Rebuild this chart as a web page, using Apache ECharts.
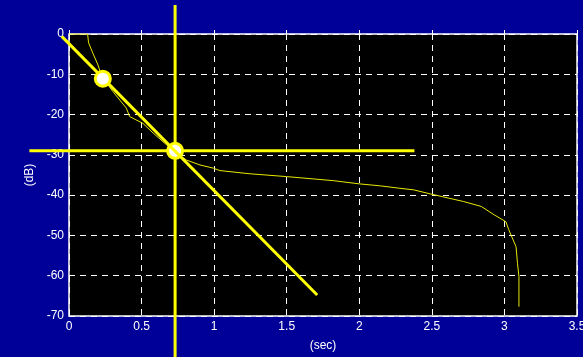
<!DOCTYPE html>
<html><head><meta charset="utf-8">
<script src="https://cdn.jsdelivr.net/npm/echarts@6/dist/echarts.min.js"></script>
<style>html,body{margin:0;padding:0;background:#000099;}#c{width:583px;height:357px;}</style>
</head><body><div id="c"></div>
<script>
// Decay curve (sec, dB)
const decayT = [0, 0.128, 0.135, 0.165, 0.2, 0.225, 0.303, 0.395, 0.418, 0.51, 0.58, 0.672, 0.729, 0.81, 0.902, 0.994, 1.04, 1.247, 1.5, 1.82, 2.0, 2.146, 2.28, 2.376, 2.49, 2.72, 2.84, 2.93, 3.01, 3.03, 3.08, 3.09, 3.10, 3.10];
const decayDb = [0, 0, -2.2, -4.8, -7.7, -10.5, -14.3, -18.4, -20.5, -22.2, -24.6, -27.5, -29.3, -31.3, -32.5, -33.3, -33.9, -34.7, -35.4, -36.4, -37.2, -37.7, -38.3, -38.7, -39.7, -41.6, -42.8, -44.9, -46.6, -48.6, -52.8, -56.9, -60.2, -67.7];
// Fitted regression line endpoints
const fitT = [-0.05, 1.71];
const fitDb = [-0.6, -64.8];
// Crosshair at point
const crossT = 0.731, crossDb = -29.0;
const vLineDb = [7.2, -80.5];
const hLineT = [-0.273, 2.38];
// Marker points
const markT = [0.233, 0.731];
const markDb = [-11.1, -29.0];
const xTicks = [0, 0.5, 1, 1.5, 2, 2.5, 3, 3.5];
const yTicks = [0, -10, -20, -30, -40, -50, -60, -70];

const zip = (a, b) => a.map((v, i) => [v, b[i]]);
const crossSegs = [
  [crossT, vLineDb[0], crossT, vLineDb[1]],
  [hLineT[0], crossDb, hLineT[1], crossDb]
];
const fitSegs = [[fitT[0], fitDb[0], fitT[1], fitDb[1]]];
function segSeries(data, z) {
  return {type: 'custom', data: data, clip: false, z: z,
    encode: {x: [0, 2], y: [1, 3]},
    renderItem: function (params, api) {
      const p1 = api.coord([api.value(0), api.value(1)]);
      const p2 = api.coord([api.value(2), api.value(3)]);
      return {type: 'line', shape: {x1: p1[0], y1: p1[1], x2: p2[0], y2: p2[1]},
              style: {stroke: '#ffff00', lineWidth: 3}};
    }};
}
function markSeries(i, z) {
  return {type: 'scatter', data: [[markT[i], markDb[i]]], symbol: 'circle', symbolSize: 15, clip: false, z: z,
    itemStyle: {color: '#fff', borderColor: '#ffff00', borderWidth: 3, opacity: 1}};
}
const chart = echarts.init(document.getElementById('c'));
const font = 'Liberation Sans, Arial, sans-serif';
chart.setOption({
  backgroundColor: '#000099',
  animation: false,
  grid: {left: 69, right: 6, top: 34, bottom: 41, outerBoundsMode: 'none', containLabel: false, show: true, backgroundColor: '#000', borderColor: '#fff', borderWidth: 1.5},
  xAxis: {
    type: 'value', min: 0, max: 3.5, interval: 0.5,
    name: '(sec)', nameLocation: 'middle', nameGap: 24,
    nameTextStyle: {color: '#fff', fontSize: 12, fontFamily: font},
    axisLine: {show: false},
    axisTick: {show: true, inside: true, length: 4, lineStyle: {color: '#fff'}},
    axisLabel: {color: '#fff', fontSize: 12, fontFamily: font, margin: 5, formatter: v => String(v)},
    splitLine: {show: true, lineStyle: {color: '#fff', type: [6, 5], width: 1}}
  },
  yAxis: {
    type: 'value', min: -70, max: 0, interval: 10,
    name: '(dB)', nameLocation: 'middle', nameGap: 27, nameRotate: 90,
    nameTextStyle: {color: '#fff', fontSize: 12, fontFamily: font},
    axisLine: {show: false},
    axisTick: {show: true, inside: true, length: 4, lineStyle: {color: '#fff'}},
    axisLabel: {color: '#fff', fontSize: 12, fontFamily: font, margin: 5},
    splitLine: {show: true, lineStyle: {color: '#fff', type: [6, 5], width: 1}}
  },
  series: [
    {type: 'line', data: zip(decayT, decayDb), showSymbol: false, lineStyle: {color: '#e8e800', width: 1}, z: 2},
    segSeries(crossSegs, 3),
    markSeries(1, 4),
    segSeries(fitSegs, 5),
    markSeries(0, 6)
  ]
});
</script></body></html>
